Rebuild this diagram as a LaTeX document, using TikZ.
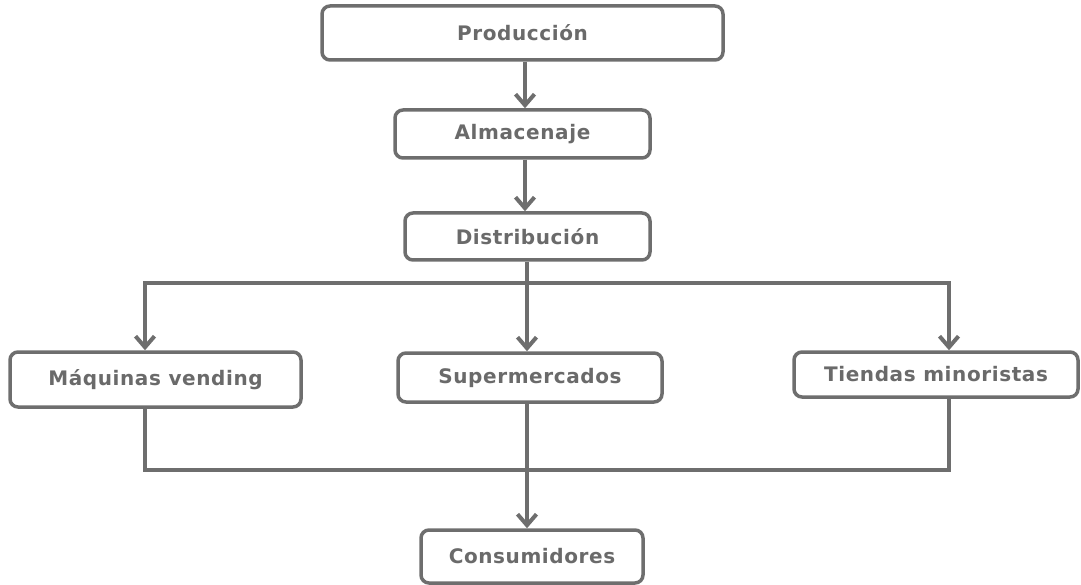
\documentclass[tikz,border=0pt]{standalone}
\usepackage{fontspec}
\setmainfont{DejaVu Sans}[LetterSpace=3]
\usetikzlibrary{arrows.meta}
\definecolor{boxgray}{HTML}{6E6E6E}
\definecolor{textgray}{HTML}{6A6A6A}
\begin{document}
\begin{tikzpicture}[
        x=1pt, y=-1pt,
        block/.style={
            rectangle,
            rounded corners=8pt,
            inner sep=0pt,
            align=center,
            draw=boxgray,
            line width=3.5pt,
            fill=white,
            text=textgray,
            font=\bfseries\fontsize{20}{24}\selectfont
        },
        line/.style={draw=boxgray, line width=3.5pt},
        arrow/.style={line, -{Straight Barb[length=11pt, width=19pt, line width=4pt]}}
    ]

    \useasboundingbox (0,0) rectangle (1081,585);

    % Nodes
    \node (prod) [block, minimum width=401pt, minimum height=54pt] at (522.5,33) {Producción};

    \node (alm) [block, minimum width=255pt, minimum height=48pt] at (522.5,134) {Almacenaje};

    \node (dist) [block, minimum width=245pt, minimum height=47pt] at (527.5,236.5) {Distribución};

    \node (maq) [block, minimum width=291pt, minimum height=55pt] at (155.5,379.5) {Máquinas vending};

    \node (super) [block, minimum width=264pt, minimum height=49pt] at (530,377.5) {Supermercados};

    \node (tiendas) [block, minimum width=284pt, minimum height=45pt] at (936,374.5) {Tiendas minoristas};

    \node (cons) [block, minimum width=222pt, minimum height=53pt] at (532,556.5) {Consumidores};

    % Junctions
    \coordinate (split) at (527,283);
    \coordinate (join) at (527,470);

    % Arrows
    \draw[arrow] ([xshift=2.5pt]prod.south) -- ([xshift=2.5pt]alm.north);
    \draw[arrow] ([xshift=2.5pt]alm.south) -- ([xshift=2.5pt]alm.south |- dist.north);
    \draw[line] (dist.south -| split) -- (split);
    \draw[arrow] (split) -| ([xshift=-10.5pt]maq.north);
    \draw[arrow] (split) -- (split |- super.north);
    \draw[arrow] (split) -| ([xshift=13pt]tiendas.north);
    \draw[line] ([xshift=-10.5pt]maq.south) |- (join);
    \draw[line] ([xshift=13pt]tiendas.south) |- (join);
    \draw[line] (join |- super.south) -- (join);
    \draw[arrow] (join) -- (join |- cons.north);

    \end{tikzpicture}
\end{document}
